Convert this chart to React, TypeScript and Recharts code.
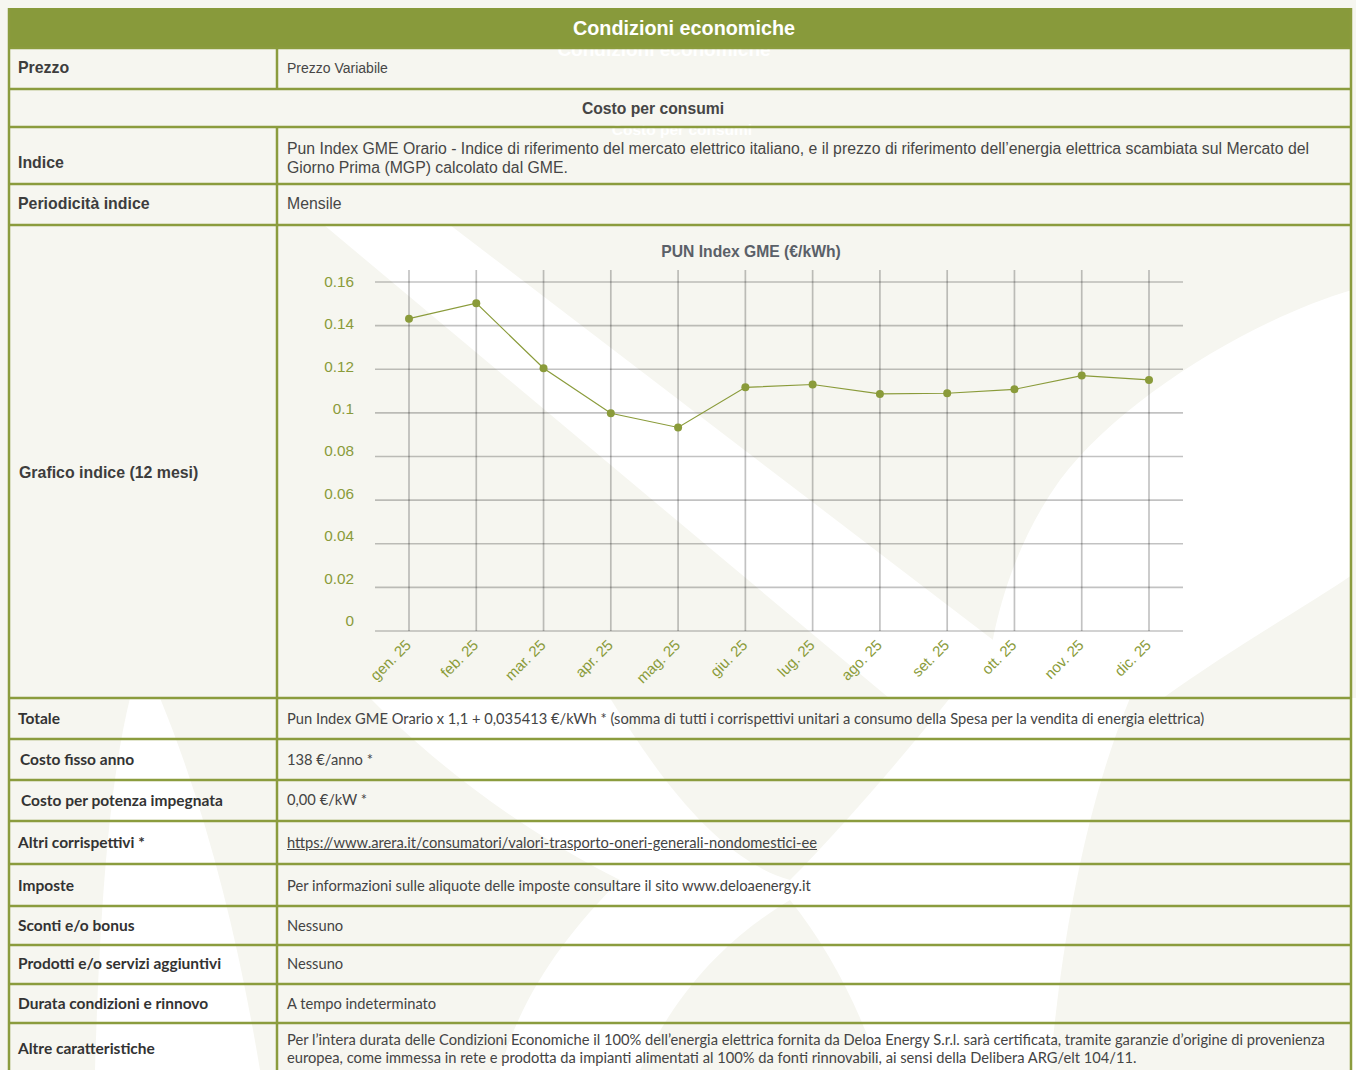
import React from 'react';
import { LineChart, Line, XAxis, YAxis, CartesianGrid } from 'recharts';

// ---------- data ----------
const months = ['gen. 25', 'feb. 25', 'mar. 25', 'apr. 25', 'mag. 25', 'giu. 25', 'lug. 25', 'ago. 25', 'set. 25', 'ott. 25', 'nov. 25', 'dic. 25'];
const punValues = [0.1432, 0.1503, 0.1205, 0.0998, 0.0933, 0.1117, 0.113, 0.1087, 0.109, 0.1108, 0.1171, 0.1151];
const yTicks = [0, 0.02, 0.04, 0.06, 0.08, 0.1, 0.12, 0.14, 0.16];
const chartTitle = 'PUN Index GME (€/kWh)';
const tableTitle = 'Condizioni economiche';
const sectionTitle = 'Costo per consumi';

const upperLabels = ['Prezzo', 'Indice', 'Periodicità indice', 'Grafico indice (12 mesi)'];
const upperValues = [
  ['Prezzo Variabile'],
  [
    'Pun Index GME Orario - Indice di riferimento del mercato elettrico italiano, e il prezzo di riferimento dell’energia elettrica scambiata sul Mercato del',
    'Giorno Prima (MGP) calcolato dal GME.',
  ],
  ['Mensile'],
  [],
];
const lowerLabels = [
  'Totale',
  'Costo fisso anno',
  'Costo per potenza impegnata',
  'Altri corrispettivi *',
  'Imposte',
  'Sconti e/o bonus',
  'Prodotti e/o servizi aggiuntivi',
  'Durata condizioni e rinnovo',
  'Altre caratteristiche',
];
const lowerValues = [
  ['Pun Index GME Orario x 1,1 + 0,035413 €/kWh * (somma di tutti i corrispettivi unitari a consumo della Spesa per la vendita di energia elettrica)'],
  ['138 €/anno *'],
  ['0,00 €/kW *'],
  ['https://www.arera.it/consumatori/valori-trasporto-oneri-generali-nondomestici-ee'],
  ['Per informazioni sulle aliquote delle imposte consultare il sito www.deloaenergy.it'],
  ['Nessuno'],
  ['Nessuno'],
  ['A tempo indeterminato'],
  [
    'Per l’intera durata delle Condizioni Economiche il 100% dell’energia elettrica fornita da Deloa Energy S.r.l. sarà certificata, tramite garanzie d’origine di provenienza',
    'europea, come immessa in rete e prodotta da impianti alimentati al 100% da fonti rinnovabili, ai sensi della Delibera ARG/elt 104/11.',
  ],
];

const chartData = months.map((m, i) => ({ month: m, pun: punValues[i] }));

// ---------- layout / style ----------
const GREEN = '#8a9b3a';
const BORDER = '#8b9c3e';
const CREAM = '#f6f6f0';
const ARIAL = '"Liberation Sans", Arial, sans-serif';
const LATO = 'Lato, "Open Sans", sans-serif';
const rowLines = [48, 89, 127, 184, 225, 698, 739, 780, 821, 864, 906, 945, 984, 1023];
const upperLabelY = [68, 163, 204, 473];
const upperValueY = [[68], [149, 168], [204], []];
const lowerLabelY = [718, 759, 800, 842, 885, 925, 963, 1003, 1048];
const lowerValueY = [[718], [759], [799], [842], [885], [925], [963], [1003], [1039, 1057]];
const lowerLabelX = [18, 20, 21, 18, 18, 18, 18, 18, 18];

const YTick = (props: any) => {
  const { x, y, payload } = props;
  const v = payload.value as number;
  const shift = -10 * (1 - v / 0.16);
  return (
    <text x={x} y={y + shift} dx={-13} dy={5} textAnchor="end" fill={GREEN} fontSize={15.3} fontFamily={ARIAL}>
      {String(v)}
    </text>
  );
};

const XTick = (props: any) => {
  const { x, y, payload } = props;
  const ax = x + 3;
  const ay = y + 7;
  return (
    <text x={ax} y={ay} transform={`rotate(-45, ${ax}, ${ay})`} textAnchor="end" fill={GREEN} fontSize={15} fontFamily={ARIAL}>
      {payload.value}
    </text>
  );
};

const scaleOf = (axis: any) => {
  const s = axis && axis.scale;
  if (!s) return null;
  if (typeof s === 'function') return s;
  if (typeof s.map === 'function') return (v: any) => s.map(v);
  return null;
};

const hGen = (p: any) => {
  const s = scaleOf(p.yAxis);
  if (!s) return [];
  return yTicks.map((v) => s(v));
};

const vGen = (p: any) => {
  const raw = p.xAxis && p.xAxis.scale;
  const s = scaleOf(p.xAxis);
  if (!s) return [];
  const bw = raw && typeof raw.bandwidth === 'function' ? raw.bandwidth() / 2 : 0;
  return months.map((m) => s(m) + bw);
};

const TextAt = ({ x, cy, children, style }: any) => (
  <div
    style={{
      position: 'absolute',
      left: x,
      top: cy - 10,
      height: 20,
      lineHeight: '20px',
      whiteSpace: 'nowrap',
      ...style,
    }}
  >
    {children}
  </div>
);

const Watermark = () => (
  <svg width={1356} height={1070} style={{ position: 'absolute', left: 0, top: 0 }}>
    <rect x={0} y={0} width={1356} height={1070} fill={CREAM} />
    {/* diagonal band across chart */}
    <polygon points="324,225 450,225 1069,698 889,698" fill="#ffffff" />
    {/* curved band at right of chart */}
    <path d="M1352,290 C1250,320 1120,400 1060,480 C1010,550 990,630 985,698 L1163,698 C1230,650 1300,610 1352,575 Z" fill="#ffffff" />
    {/* lower area */}
    <rect x={0} y={698} width={1356} height={372} fill="#ffffff" />
    <path d="M0,698 L130,698 C110,780 100,900 95,1070 L0,1070 Z" fill={CREAM} />
    <path d="M160,698 L370,698 C430,760 520,830 620,880 C560,940 520,1000 500,1070 L260,1070 C240,950 210,820 160,698 Z" fill={CREAM} />
    <path d="M610,698 L950,698 C900,760 840,830 790,880 C720,860 660,780 610,698 Z" fill={CREAM} />
    <path d="M1130,698 L1352,698 L1352,1070 L1050,1070 C1060,960 1080,820 1130,698 Z" fill={CREAM} />
    <path d="M640,1070 C680,980 740,930 790,900 C830,950 860,1010 880,1070 Z" fill={CREAM} />
  </svg>
);

const TableLines = () => (
  <svg width={1356} height={1070} style={{ position: 'absolute', left: 0, top: 0 }}>
    <rect x={8} y={8} width={1344} height={40} fill="#889a3b" />
    {rowLines.map((y) => (
      <line key={y} x1={8} x2={1352} y1={y} y2={y} stroke={BORDER} strokeWidth={2.5} />
    ))}
    <line x1={9} x2={9} y1={8} y2={1070} stroke={BORDER} strokeWidth={2.5} />
    <line x1={1351} x2={1351} y1={8} y2={1070} stroke={BORDER} strokeWidth={2.5} />
    <line x1={277} x2={277} y1={48} y2={89} stroke={BORDER} strokeWidth={2.5} />
    <line x1={277} x2={277} y1={127} y2={1070} stroke={BORDER} strokeWidth={2.5} />
  </svg>
);

export default function App() {
  return (
    <div style={{ position: 'absolute', left: 0, top: 0, width: 1356, height: 1070, overflow: 'hidden', background: CREAM }}>
      <Watermark />

      {/* ghost texts */}
      <TextAt x={-14} cy={50} style={{ width: 1356, textAlign: 'center', color: '#ffffff', fontFamily: ARIAL, fontWeight: 700, fontSize: 19 }}>
        {tableTitle}
      </TextAt>
      <TextAt x={4} cy={130} style={{ width: 1356, textAlign: 'center', color: '#ffffff', fontFamily: ARIAL, fontWeight: 700, fontSize: 15.5 }}>
        {sectionTitle}
      </TextAt>

      <TableLines />

      <TextAt x={0} cy={28} style={{ width: 1368, textAlign: 'center', color: '#ffffff', fontFamily: ARIAL, fontWeight: 700, fontSize: 19.8 }}>
        {tableTitle}
      </TextAt>
      <TextAt x={0} cy={109} style={{ width: 1306, textAlign: 'center', color: '#454545', fontFamily: ARIAL, fontWeight: 700, fontSize: 15.7 }}>
        {sectionTitle}
      </TextAt>

      {upperLabels.map((l, i) => (
        <TextAt key={l} x={i === 3 ? 19 : 18} cy={upperLabelY[i]} style={{ color: '#3d3d3d', fontFamily: ARIAL, fontWeight: 700, fontSize: 15.9 }}>
          {l}
        </TextAt>
      ))}
      {upperValues.map((lines, i) =>
        lines.map((t, j) => (
          <TextAt key={`${i}-${j}`} x={287} cy={upperValueY[i][j]} style={{ color: '#464646', fontFamily: ARIAL, fontSize: i === 0 ? 14 : 15.8 }}>
            {t}
          </TextAt>
        ))
      )}

      {lowerLabels.map((l, i) => (
        <TextAt key={l} x={lowerLabelX[i]} cy={lowerLabelY[i]} style={{ color: '#333333', fontFamily: LATO, fontWeight: 700, fontSize: 15.5 }}>
          {l}
        </TextAt>
      ))}
      {lowerValues.map((lines, i) =>
        lines.map((t, j) => (
          <TextAt
            key={`l${i}-${j}`}
            x={287}
            cy={lowerValueY[i][j]}
            style={{ color: '#444444', fontFamily: LATO, fontSize: 14.7, textDecoration: i === 3 ? 'underline' : 'none' }}
          >
            {t}
          </TextAt>
        ))
      )}

      {/* chart title */}
      <TextAt x={277} cy={252} style={{ width: 948, textAlign: 'center', color: '#5a6068', fontFamily: ARIAL, fontWeight: 700, fontSize: 15.7 }}>
        {chartTitle}
      </TextAt>

      <div style={{ position: 'absolute', left: 277, top: 226 }}>
        <LineChart width={1075} height={471} data={chartData} margin={{ top: 44, right: 169, left: 38, bottom: 6 }}>
          <CartesianGrid
            stroke="#000000"
            strokeOpacity={0.24}
            strokeWidth={1.7}
            horizontalCoordinatesGenerator={hGen}
            verticalCoordinatesGenerator={vGen}
          />
          <XAxis
            dataKey="month"
            interval={0}
            padding={{ left: 34, right: 34 }}
            axisLine={false}
            tickLine={false}
            height={60}
            tick={<XTick />}
          />
          <YAxis
            domain={[0, 0.1655]}
            ticks={yTicks}
            width={60}
            axisLine={false}
            tickLine={false}
            tick={<YTick />}
          />
          <Line
            type="linear"
            dataKey="pun"
            stroke={GREEN}
            strokeWidth={1.2}
            dot={{ r: 4, fill: GREEN, stroke: GREEN, strokeWidth: 0 }}
            isAnimationActive={false}
          />
        </LineChart>
      </div>
    </div>
  );
}
